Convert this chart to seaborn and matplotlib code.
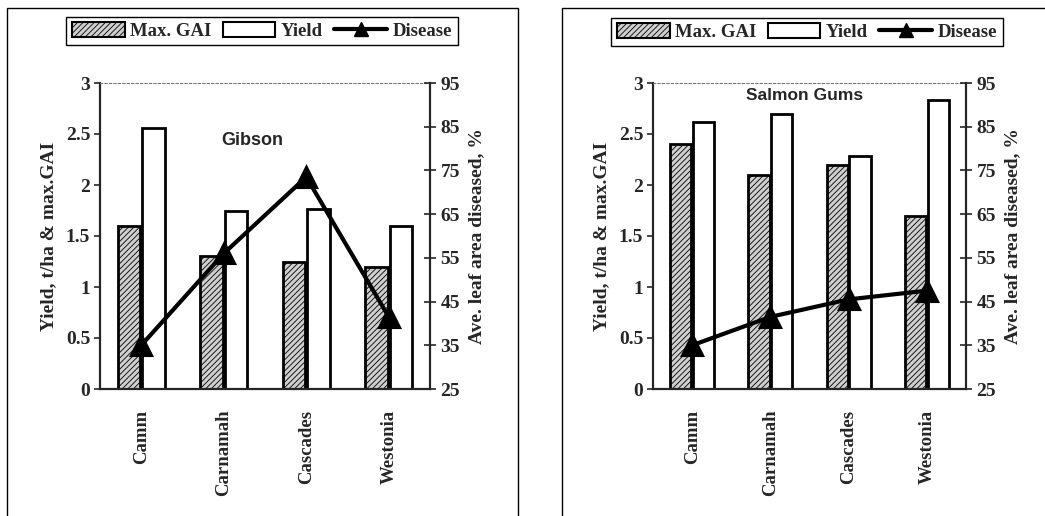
import matplotlib
matplotlib.use("Agg")
import matplotlib.pyplot as plt
from matplotlib.patches import Patch, Rectangle
from matplotlib.lines import Line2D
import seaborn as sns
import pandas as pd

cultivars = ["Camm", "Carnamah", "Cascades", "Westonia"]
gibson_gai = [1.6, 1.3, 1.25, 1.2]
gibson_yield = [2.56, 1.75, 1.76, 1.6]
gibson_disease = [35, 56, 73.5, 41.5]
salmon_gai = [2.4, 2.1, 2.2, 1.7]
salmon_yield = [2.62, 2.7, 2.28, 2.83]
salmon_disease = [35, 41.5, 45.5, 47.5]
left_ticks = [0, 0.5, 1, 1.5, 2, 2.5, 3]
left_ticklabels = ["0", "0.5", "1", "1.5", "2", "2.5", "3"]
right_ticks = [25, 35, 45, 55, 65, 75, 85, 95]

sns.set_style("white")
plt.rcParams["font.family"] = ["Liberation Serif", "DejaVu Serif"]
plt.rcParams["font.weight"] = "bold"
plt.rcParams["hatch.linewidth"] = 0.6
plt.rcParams["hatch.color"] = "#333333"

fig = plt.figure(figsize=(10.45, 5.16), dpi=100)
W, H = 1045, 516

def fx(px):
    return px / W

def fy(py):
    return 1 - py / H

# Panel frames
fig.patches.append(Rectangle((fx(7), fy(530)), fx(518 - 7), (530 - 8) / H, transform=fig.transFigure,
                             fill=False, edgecolor="black", linewidth=1.0))
fig.patches.append(Rectangle((fx(562), fy(530)), fx(1060 - 562), (530 - 8) / H, transform=fig.transFigure,
                             fill=False, edgecolor="black", linewidth=1.0))

GAI_FACE = "#cfcfcf"
GAI_HATCH = "//////"
TICK_FS = 14
LABEL_FS = 14

def panel(rect, gai, yld, dis, title, tpos, tfs, legend_center):
    ax = fig.add_axes(rect)
    df = pd.DataFrame({
        "cultivar": cultivars * 2,
        "value": list(gai) + list(yld),
        "series": ["Max. GAI"] * 4 + ["Yield"] * 4,
    })
    sns.barplot(data=df, x="cultivar", y="value", hue="series", order=cultivars,
                hue_order=["Max. GAI", "Yield"], palette=[GAI_FACE, "white"],
                width=0.583, gap=0.065, edgecolor="black", linewidth=2.0,
                legend=False, ax=ax, saturation=1)
    for i, bar in enumerate(ax.patches):
        if i < 4:
            bar.set_hatch(GAI_HATCH)
            bar.set_edgecolor("black")
    ax.set_xlim(-0.5, 3.5)
    ax.set_ylim(0, 3)
    ax.set_yticks(left_ticks)
    ax.set_yticklabels(left_ticklabels)
    ax.set_xlabel("")
    ax.set_ylabel("Yield, t/ha & max.GAI", fontsize=LABEL_FS, fontweight="bold", labelpad=6)
    ax.set_xticks(range(4))
    ax.set_xticklabels(cultivars, rotation=90, fontsize=13.5, fontweight="bold")
    ax.tick_params(axis="x", which="major", length=0, pad=15)
    ax.set_xticks([0.5, 1.5, 2.5], minor=True)
    ax.tick_params(axis="x", which="minor", length=9, direction="inout", width=1.2)
    ax.tick_params(axis="y", length=4, direction="out", width=1.2, labelsize=TICK_FS, pad=3, left=True)
    for lab in ax.get_yticklabels():
        lab.set_fontweight("bold")
    ax.spines["left"].set_linewidth(1.6)
    ax.spines["bottom"].set_linewidth(1.6)
    ax.spines["top"].set_linestyle((0, (2, 2)))
    ax.spines["top"].set_color("#777777")
    ax.spines["top"].set_linewidth(0.8)
    ax.spines["right"].set_visible(False)

    ax2 = ax.twinx()
    ddf = pd.DataFrame({"cultivar": cultivars, "disease": dis})
    sns.pointplot(data=ddf, x="cultivar", y="disease", order=cultivars, color="black",
                  markers="^", linestyles="-", ax=ax2, markersize=14, linewidth=3)
    ax2.set_xlim(-0.5, 3.5)
    ax2.set_ylim(25, 95)
    ax2.set_yticks(right_ticks)
    ax2.set_yticklabels([str(t) for t in right_ticks])
    ax2.set_ylabel("Ave. leaf area diseased, %", fontsize=LABEL_FS, fontweight="bold", labelpad=6)
    ax2.set_xlabel("")
    ax2.tick_params(axis="y", length=9, direction="inout", width=1.2, labelsize=TICK_FS, pad=3, right=True)
    for lab in ax2.get_yticklabels():
        lab.set_fontweight("bold")
    for s in ["left", "bottom", "top"]:
        ax2.spines[s].set_visible(False)
    ax2.spines["right"].set_linewidth(1.6)

    ax.text(tpos[0], tpos[1], title, fontsize=tfs, fontweight="bold",
            family=["Liberation Sans", "DejaVu Sans"], ha="center", va="center")

    handles = [
        Patch(facecolor=GAI_FACE, edgecolor="black", hatch=GAI_HATCH, linewidth=1.5),
        Patch(facecolor="white", edgecolor="black", linewidth=1.5),
        Line2D([0], [0], color="black", linewidth=3, marker="^", markersize=10),
    ]
    leg = fig.legend(handles, ["Max. GAI", "Yield", "Disease"], ncol=3,
                     loc="center", bbox_to_anchor=(fx(legend_center[0]), fy(legend_center[1])),
                     frameon=True, fancybox=False, edgecolor="black", framealpha=1,
                     prop={"weight": "bold", "size": 13.5}, handlelength=2.8, handletextpad=0.3,
                     columnspacing=0.6, borderpad=0.3, handleheight=0.8)
    leg.get_frame().set_linewidth(1.0)
    return ax, ax2

plot_top, plot_bottom = 83, 389
panel([fx(100), fy(plot_bottom), fx(430 - 100), (plot_bottom - plot_top) / H],
      gibson_gai, gibson_yield, gibson_disease, "Gibson", (1.34, 2.44), 13, (262, 31))
panel([fx(653), fy(plot_bottom), fx(966 - 653), (plot_bottom - plot_top) / H],
      salmon_gai, salmon_yield, salmon_disease, "Salmon Gums", (1.44, 2.88), 12.5, (807, 32))

fig.savefig("out.png", dpi=100)
